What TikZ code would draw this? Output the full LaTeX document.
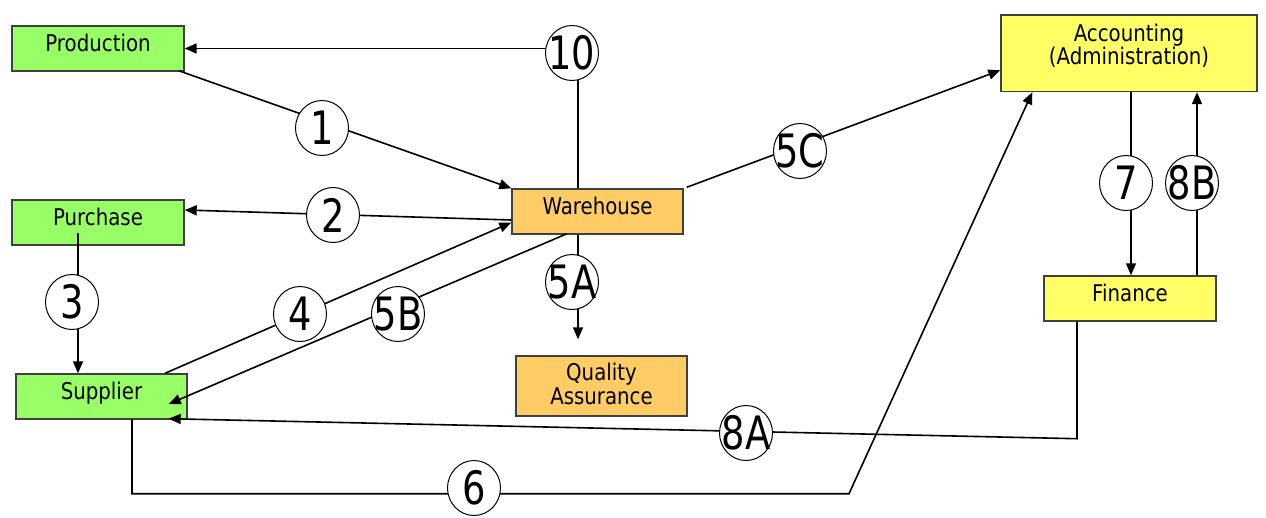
\documentclass[tikz,border=0pt]{standalone}
\usepackage{fontspec}
\newfontfamily\boxfont[FakeStretch=0.86]{DejaVu Sans}
\newfontfamily\numfont[FakeStretch=0.8]{DejaVu Sans}
\usetikzlibrary{arrows.meta,calc,shapes.geometric}
\definecolor{grn}{HTML}{99FF66}
\definecolor{org}{HTML}{FFCC66}
\definecolor{ylw}{HTML}{FFFF66}
\definecolor{edgegray}{HTML}{404040}
\begin{document}
\begin{tikzpicture}[x=1pt,y=-1pt,
  box/.style={draw=edgegray, line width=1.4pt, inner sep=0pt, minimum height=45pt,
    text height=25pt, text depth=20pt, font={\boxfont\fontsize{23pt}{22.5pt}\selectfont}},
  numc/.style={ellipse, draw=black, line width=1pt, fill=white, minimum width=53pt,
    minimum height=55pt, inner sep=0pt, font={\numfont\fontsize{46pt}{46pt}\selectfont}},
  arr/.style={line width=1.6pt, -{Triangle[length=12pt,width=10pt]}}]
\fill[white] (0,0) rectangle (1266,517);
\useasboundingbox (0,0) rectangle (1266,517);
% boxes
\node[box, fill=grn, minimum width=172pt] (prod) at (98,48.5) {Production};
\node[box, fill=grn, minimum width=172pt] (purch) at (98,222.5) {Purchase};
\node[box, fill=grn, minimum width=171pt] (supp) at (101.5,396.5) {Supplier};
\node[box, fill=org, minimum width=171pt] (ware) at (597.5,211.5) {Warehouse};
\node[box, fill=org, minimum width=171pt, minimum height=60pt, text height=24.5pt, text depth=35.5pt] (qa) at (601.5,386)
  {\begin{tabular}[t]{@{}c@{}}Quality\\Assurance\end{tabular}};
\node[box, fill=ylw, minimum width=256pt, minimum height=76.5pt, text height=26pt, text depth=50.5pt,
  font={\boxfont\fontsize{23pt}{21.5pt}\selectfont}] (acc) at (1129,53.25)
  {\begin{tabular}[t]{@{}c@{}}Accounting\\(Administration)\end{tabular}};
\node[box, fill=ylw, minimum width=172pt] (fin) at (1130,298.5) {Finance};
% connectors
\draw[arr] ($(prod.south east)+(-6,-1)$) -- (ware.north west);
\draw[arr] ($(ware.west)+(0,8.5)$) -- ($(purch.east)+(0,-12.5)$);
\draw[arr] ($(purch.south)+(-20,-13)$) -- ($(supp.north)+(-23.5,0)$);
\draw[arr] ($(supp.north)+(63.5,0)$) -- ($(ware.west)+(0,11)$);
\draw[arr] ($(ware.south)+(-30.5,-1)$) -- ($(supp.east)+(-19,7.5)$);
\draw[arr] ($(ware.south)+(-19.5,0)$) -- ($(qa.north)+(-23.5,-16)$);
\draw[arr] ($(ware.north)+(-19.5,0)$) |- (prod.east);
\draw[arr] ($(ware.north east)+(3,-1)$) -- ($(acc.west)+(0,17)$);
\draw[arr] ($(acc.south)+(2,0)$) -- ($(fin.north)+(1,0)$);
\draw[arr] ($(fin.north)+(67,0)$) -- ($(acc.south)+(68,0)$);
\draw[arr] ($(fin.south)+(-53,0)$) -- ++(0,117) -- ($(supp.south east)+(-19,-1)$);
\draw[arr] ($(supp.south)+(30.5,0)$) -- ++(0,74) -- ++(717,0) -- ($(acc.south west)+(32,0)$);
% step numbers
\node[numc] (c1) at (322,128) {\makebox[0pt]{1}};
\node[numc] (c2) at (333,215) {\makebox[0pt]{2}};
\node[numc] (c3) at (72,302) {\makebox[0pt]{3}};
\node[numc] (c4) at (300,314) {\makebox[0pt]{4}};
\node[numc] (c5b) at (398,314) {\makebox[0pt]{5B}};
\node[numc] (c5a) at (572,282) {\makebox[0pt]{5A}};
\node[numc] (c10) at (572,53) {\makebox[0pt]{10}};
\node[numc] (c5c) at (800,151) {\makebox[0pt]{5C}};
\node[numc] (c7) at (1126,183) {\makebox[0pt]{7}};
\node[numc] (c8b) at (1192,183) {\makebox[0pt]{8B}};
\node[numc] (c8a) at (746,433) {\makebox[0pt]{8A}};
\node[numc] (c6) at (474,488) {\makebox[0pt]{6}};
\end{tikzpicture}
\end{document}
